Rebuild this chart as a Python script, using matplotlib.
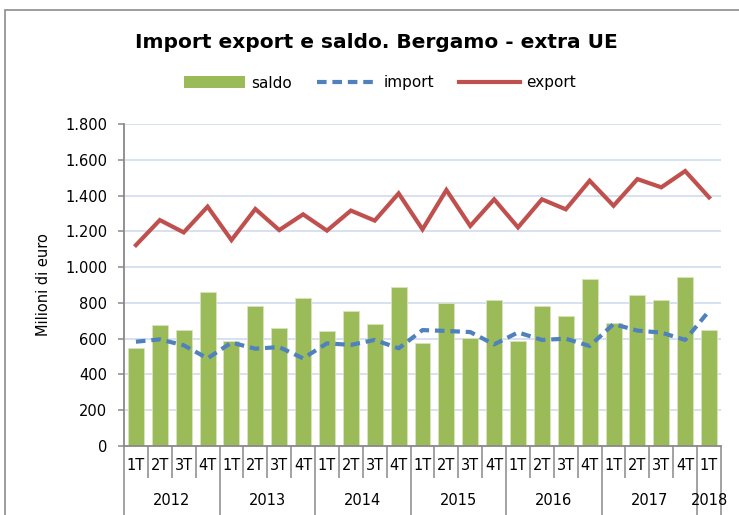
import matplotlib
matplotlib.use('Agg')
import matplotlib.pyplot as plt
import numpy as np
from matplotlib.patches import Rectangle, Patch
from matplotlib.lines import Line2D
from matplotlib.ticker import FuncFormatter

# data (milioni di euro)
years = ['2012', '2013', '2014', '2015', '2016', '2017', '2018']
quarters = ['1T', '2T', '3T', '4T'] * 6 + ['1T']
saldo = [548, 675, 648, 862, 587, 783, 658, 826, 641, 755, 684, 889,
         578, 799, 604, 816, 587, 781, 727, 933, 686, 844, 816, 943, 648]
imp = [583, 596, 563, 490, 578, 544, 553, 490, 574, 565, 593, 546,
       648, 643, 637, 568, 635, 593, 600, 559, 682, 645, 634, 593, 755]
exp = [1123, 1263, 1194, 1338, 1151, 1325, 1207, 1295, 1204, 1316, 1260, 1412,
       1211, 1431, 1230, 1379, 1222, 1379, 1323, 1483, 1343, 1492, 1446, 1537, 1390]

green = '#9BBB59'
blue = '#4F81BD'
red = '#C0504D'
axcol = '#898989'

plt.rcParams['font.family'] = ['DejaVu Sans']

W, H = 739, 515
fig = plt.figure(figsize=(W / 100, H / 100), dpi=100)
ax = fig.add_axes([124 / W, 1 - 446 / H, (721 - 124) / W, (446 - 124) / H])

x = np.arange(len(saldo))
ax.bar(x, saldo, width=0.67, color=green, edgecolor='#D7E4BD', linewidth=0.6, zorder=2)
ax.plot(x, imp, color=blue, lw=3, linestyle=(0, (2.3, 1.4)), zorder=3)
ax.plot(x, exp, color=red, lw=3, zorder=4, solid_joinstyle='miter')

ax.set_xlim(-0.5, len(saldo) - 0.5)
ax.set_ylim(0, 1800)
ax.set_yticks(np.arange(0, 1801, 200))
ax.yaxis.set_major_formatter(FuncFormatter(lambda v, p: f'{int(v):,}'.replace(',', '.')))
ax.grid(axis='y', color='#D3DEF1', lw=1.3, zorder=0)
ax.set_axisbelow(True)
for s in ['top', 'right']:
    ax.spines[s].set_visible(False)
for s in ['left', 'bottom']:
    ax.spines[s].set_color(axcol)
    ax.spines[s].set_linewidth(1.3)
ax.tick_params(axis='y', length=4, color=axcol, width=1.1, labelsize=10.5, pad=8)
ax.set_ylabel('Milioni di euro', fontsize=10.5, labelpad=10)

# x axis: quarter and year separators
bounds = np.arange(len(saldo) + 1) - 0.5
year_bounds = [-0.5, 3.5, 7.5, 11.5, 15.5, 19.5, 23.5, 24.5]
ax.set_xticks(year_bounds)
ax.set_xticks(bounds, minor=True)
ax.set_xticklabels([])
ax.tick_params(axis='x', which='major', length=52, color=axcol, width=1.1)
ax.tick_params(axis='x', which='minor', length=23, color=axcol, width=1.1)

for i, q in enumerate(quarters):
    ax.annotate(q, (i, 0), xycoords=('data', 'axes fraction'), xytext=(0, -14),
                textcoords='offset points', ha='center', va='center', fontsize=10.5)
for k, yr in enumerate(years):
    c = (year_bounds[k] + year_bounds[k + 1]) / 2
    ax.annotate(yr, (c, 0), xycoords=('data', 'axes fraction'), xytext=(0, -39),
                textcoords='offset points', ha='center', va='center', fontsize=10.5)

fig.text(376 / W, 1 - 42 / H, 'Import export e saldo. Bergamo - extra UE',
         ha='center', va='center', fontsize=14.5, fontweight='bold')

handles = [Patch(facecolor=green, edgecolor='none'),
           Line2D([], [], color=blue, lw=3, linestyle=(0, (2.3, 1.4))),
           Line2D([], [], color=red, lw=3)]
fig.legend(handles, ['saldo', 'import', 'export'], loc='center',
           bbox_to_anchor=(380 / W, 1 - 83 / H), ncol=3, frameon=False,
           fontsize=11, handlelength=4, handleheight=0.8, columnspacing=1.6,
           handletextpad=0.4)

fig.add_artist(Rectangle((5 / W, -0.1), 1.2, 1.1 - 10 / H, transform=fig.transFigure,
                         fill=False, edgecolor='#8C8C8C', lw=1.2))

fig.savefig('out.png', dpi=100)
